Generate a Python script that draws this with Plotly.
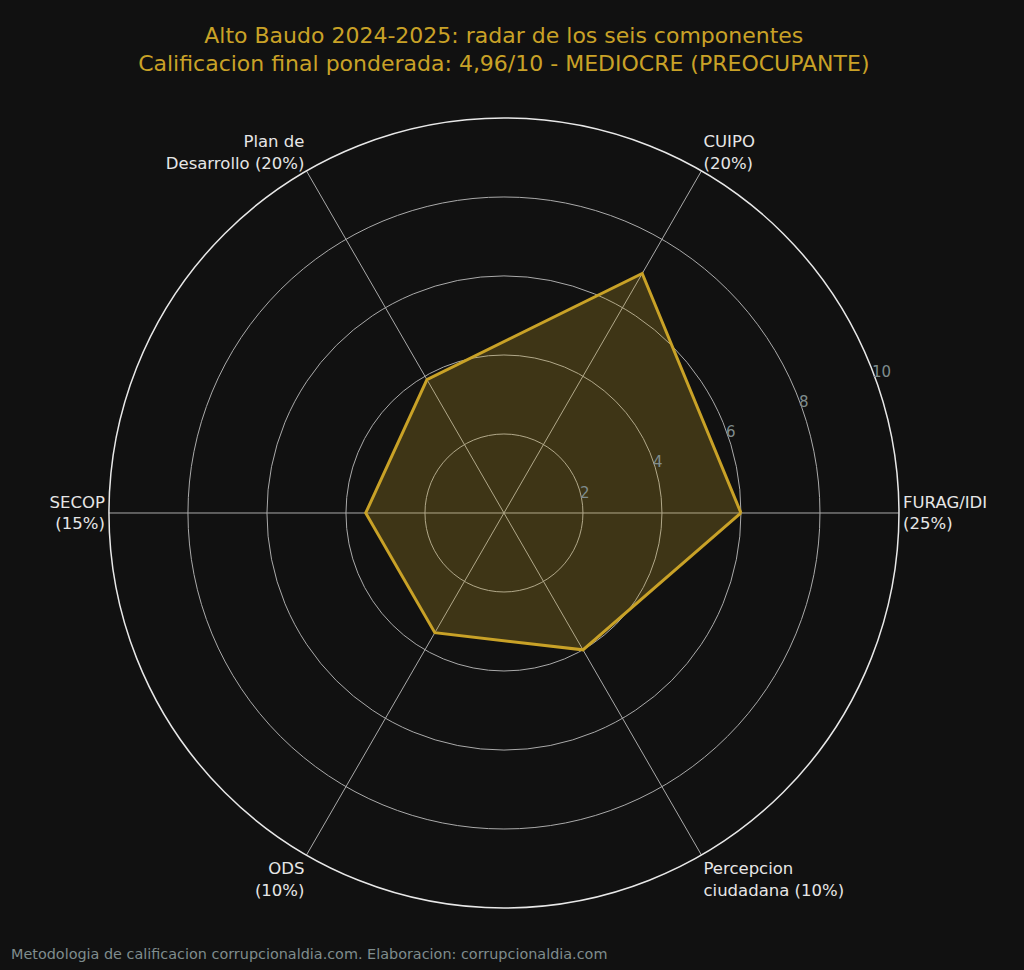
import plotly.graph_objects as go

# Data
componentes = ["FURAG/IDI", "CUIPO", "Plan de Desarrollo", "SECOP", "ODS", "Percepcion ciudadana"]
etiquetas = ["FURAG/IDI<br>(25%)", "CUIPO<br>(20%)", "Plan de<br>Desarrollo (20%)",
             "SECOP<br>(15%)", "ODS<br>(10%)", "Percepcion<br>ciudadana (10%)"]
puntajes = [6.0, 7.0, 3.9, 3.5, 3.5, 4.0]
radial_ticks = [2, 4, 6, 8, 10]

BG = "#111111"
GOLD = "#c9a227"

fig = go.Figure()

# Radar polygon (closed)
fig.add_trace(go.Scatterpolar(
    r=puntajes + puntajes[:1],
    theta=componentes + componentes[:1],
    mode="lines",
    fill="toself",
    fillcolor="rgba(201,162,39,0.25)",
    line=dict(color=GOLD, width=3),
    hoverinfo="skip",
    showlegend=False,
))

fig.update_layout(
    width=1024, height=970,
    paper_bgcolor=BG, plot_bgcolor=BG,
    margin=dict(l=0, r=0, t=0, b=0),
    font=dict(family="DejaVu Sans"),
    title=dict(
        text="Alto Baudo 2024-2025: radar de los seis componentes<br>"
             "Calificacion final ponderada: 4,96/10 - MEDIOCRE (PREOCUPANTE)",
        x=0.492, xanchor="center", y=0.956, yanchor="top",
        font=dict(size=22, color=GOLD, family="DejaVu Sans"),
    ),
    polar=dict(
        bgcolor=BG,
        domain=dict(x=[0.1064, 0.8779], y=[0.0639, 0.8784]),
        radialaxis=dict(
            range=[0, 10],
            tickvals=radial_ticks,
            angle=22.5,
            tickangle=22.5,
            showline=False,
            ticks="",
            gridcolor="#aaaaaa",
            gridwidth=1.2,
            tickfont=dict(size=15, color="#7f8c8d"),
        ),
        angularaxis=dict(
            rotation=0,
            direction="counterclockwise",
            tickmode="array",
            tickvals=componentes,
            ticktext=etiquetas,
            ticks="",
            tickfont=dict(size=16.5, color="#e6e6e6"),
            gridcolor="#aaaaaa",
            gridwidth=1.2,
            showline=True,
            linecolor="#e8e8e8",
            linewidth=1.5,
        ),
    ),
    annotations=[dict(
        text="Metodologia de calificacion corrupcionaldia.com. Elaboracion: corrupcionaldia.com",
        x=0.009, y=0.006, xref="paper", yref="paper",
        xanchor="left", yanchor="bottom", showarrow=False,
        font=dict(size=14.4, color="#7f8c8d", family="DejaVu Sans"),
    )],
)

fig.write_html("out.html", config={"displayModeBar": False},
               post_script="document.body.style.margin='0';")
